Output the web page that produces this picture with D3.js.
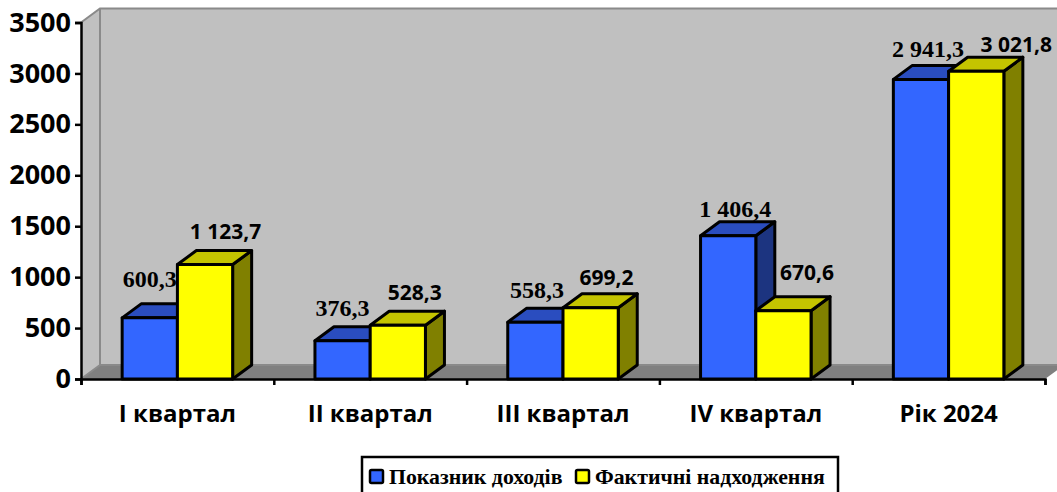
<!DOCTYPE html>
<meta charset="utf-8">
<style>
    html, body { margin: 0; background: #fff; }
    svg { display: block; }
    .axis text { font-family: "Open Sans", sans-serif; font-weight: 700; fill: #000; }
    .axis path, .axis line { stroke: #000; stroke-width: 2.5px; }
    .serif { font-family: "Liberation Serif", serif; font-weight: 700; }
    .sans { font-family: "Open Sans", sans-serif; font-weight: 700; }
</style>

<svg width="1057" height="492"></svg>

<script src="https://cdn.jsdelivr.net/npm/d3@7"></script>
<script>

    var categories = ["I квартал", "II квартал", "III квартал", "IV квартал", "Рік 2024"];
    var seriesNames = ["Показник доходів", "Фактичні надходження"];
    var plan = [600.3, 376.3, 558.3, 1406.4, 2941.3];
    var fact = [1123.7, 528.3, 699.2, 670.6, 3021.8];
    var planLabels = ["600,3", "376,3", "558,3", "1 406,4", "2 941,3"];
    var factLabels = ["1 123,7", "528,3", "699,2", "670,6", "3 021,8"];
    var yTicks = [0, 500, 1000, 1500, 2000, 2500, 3000, 3500];

    var svg = d3.select("svg"),
        plotLeft = 81, plotRight = 1045, plotBottom = 379, plotTop = 22.5,
        dx = 19, dy = -14;

    var y = d3.scaleLinear().domain([0, 3500]).range([plotBottom, plotTop]);
    var x = d3.scaleBand().domain(categories).range([plotLeft, plotRight]);
    var inner = d3.scaleBand().domain([0, 1]).range([0, x.bandwidth()]).paddingOuter(0.745).paddingInner(0);
    var edges = d3.scaleLinear().domain([0, categories.length]).range([plotLeft, plotRight]);

    function poly(pts, fill, stroke, sw) {
        return svg.append("polygon")
            .attr("points", pts.map(function(p) { return p.join(","); }).join(" "))
            .attr("fill", fill)
            .attr("stroke", stroke || "none")
            .attr("stroke-width", sw || 0)
            .attr("stroke-linejoin", "round");
    }

    // walls and floor
    poly([[plotLeft + dx, plotTop + dy], [1075, plotTop + dy], [1075, plotBottom + dy], [plotLeft + dx, plotBottom + dy]], "#c0c0c0");
    poly([[plotLeft, plotTop], [plotLeft + dx, plotTop + dy], [plotLeft + dx, plotBottom + dy], [plotLeft, plotBottom]], "#c0c0c0");
    poly([[plotLeft, plotBottom], [plotLeft + dx, plotBottom + dy], [plotRight + dx, plotBottom + dy], [plotRight, plotBottom]], "#808080");
    svg.append("path")
        .attr("d", "M" + plotLeft + "," + plotTop + "L" + (plotLeft + dx) + "," + (plotTop + dy) + "L1075," + (plotTop + dy) +
                   "M" + (plotLeft + dx) + "," + (plotTop + dy) + "V" + (plotBottom + dy) + "L" + plotLeft + "," + plotBottom +
                   "M" + (plotLeft + dx) + "," + (plotBottom + dy) + "H1075")
        .attr("fill", "none").attr("stroke", "#8a8a8a").attr("stroke-width", 2);

    function drawBars(values, s, front, topFace, side) {
        values.forEach(function(v, i) {
            var x0 = x(categories[i]) + inner(s), x1 = x0 + inner.bandwidth(), y0 = y(v);
            poly([[x1, y0], [x1 + dx, y0 + dy], [x1 + dx, plotBottom + dy], [x1, plotBottom]], side, "#000", 3);
            poly([[x0, y0], [x0 + dx, y0 + dy], [x1 + dx, y0 + dy], [x1, y0]], topFace, "#000", 3);
            poly([[x0, y0], [x1, y0], [x1, plotBottom], [x0, plotBottom]], front, "#000", 3);
        });
    }
    // per group so the yellow bar overlaps the blue one
    drawBars(plan, 0, "#3366ff", "#2a4dbf", "#1c3480");
    drawBars(fact, 1, "#ffff00", "#c4c400", "#808000");

    // axes
    svg.append("g").attr("class", "axis")
        .attr("transform", "translate(" + plotLeft + ",0)")
        .call(d3.axisLeft(y).tickValues(yTicks).tickSize(6).tickPadding(4).tickFormat(d3.format("d")))
        .call(function(g) { g.selectAll("text").style("font-size", "27px"); });

    svg.append("g").attr("class", "axis")
        .attr("transform", "translate(0," + plotBottom + ")")
        .call(d3.axisBottom(edges).ticks(categories.length).tickSize(6).tickFormat(""));

    svg.append("g").attr("class", "axis")
        .attr("transform", "translate(0," + plotBottom + ")")
        .call(d3.axisBottom(x).tickSize(0).tickPadding(26))
        .call(function(g) {
            g.select(".domain").remove();
            g.selectAll("text").style("font-size", "24px");
        });

    // value labels sit a little above the bar, offsets
    function drawLabels(labels, values, s, cls, size, shiftX, shiftY) {
        svg.append("g").selectAll("text")
            .data(labels)
            .enter().append("text")
            .attr("class", cls)
            .attr("text-anchor", "middle")
            .style("font-size", size + "px")
            .attr("x", function(d, i) { return x(categories[i]) + inner(s) + inner.bandwidth() / 2 + shiftX[i]; })
            .attr("y", function(d, i) { return y(values[i]) + shiftY[i]; })
            .text(function(d) { return d; });
    }
    drawLabels(planLabels, plan, 0, "serif", 24, [0, 0, 1.5, 7, 7], [-31, -25, -24, -18.5, -22]);
    drawLabels(factLabels, fact, 1, "sans", 21, [20.5, 17, 16, 23.5, 40], [-26, -25, -23, -31, -19]);

    // legend
    var lg = svg.append("g").attr("transform", "translate(362,457)");
    lg.append("rect").attr("width", 476).attr("height", 40).attr("fill", "#fff").attr("stroke", "#000").attr("stroke-width", 2.5);
    var legendColors = ["#3366ff", "#ffff00"], legendX = [8, 214];
    seriesNames.forEach(function(name, i) {
        lg.append("rect").attr("x", legendX[i]).attr("y", 13).attr("width", 13).attr("height", 13)
            .attr("rx", 1.5).attr("fill", legendColors[i]).attr("stroke", "#000").attr("stroke-width", 2.5);
        lg.append("text").attr("class", "serif").attr("x", legendX[i] + 19).attr("y", 27)
            .style("font-size", "21.8px").text(name);
    });

</script>
